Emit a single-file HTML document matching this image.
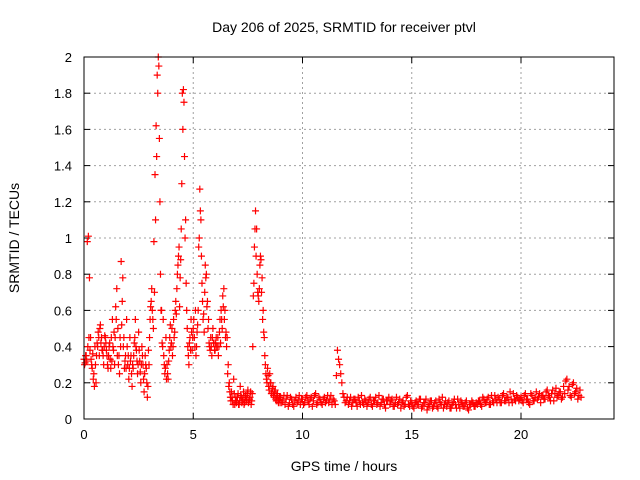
<!DOCTYPE html>
<html><head><meta charset="utf-8"><style>
html,body{margin:0;padding:0;background:#fff;}
svg{display:block;font-family:"Liberation Sans",sans-serif;}
</style></head><body>
<svg id="chart" width="640" height="480" viewBox="0 0 640 480" xmlns="http://www.w3.org/2000/svg">
<rect x="0" y="0" width="640" height="480" fill="#fff"/>
<text x="344" y="32" font-size="14" text-anchor="middle">Day 206 of 2025, SRMTID for receiver ptvl</text>
<text transform="translate(19,238) rotate(-90)" font-size="14" text-anchor="middle">SRMTID / TECUs</text>
<text x="344" y="471" font-size="14" text-anchor="middle">GPS time / hours</text>
<g id="grid"></g><g id="ticks"></g><g id="marks"></g>
<rect x="84" y="57" width="530" height="362" fill="none" stroke="#000" stroke-width="1"/>
</svg>
<script>
const xTicks=[0,5,10,15,20];
const yTicks=[0,0.2,0.4,0.6,0.8,1,1.2,1.4,1.6,1.8,2];
const yTickLabels=["0","0.2","0.4","0.6","0.8","1","1.2","1.4","1.6","1.8","2"];
const seg1Start=0, seg1Step=0.05;
const seg1Values=[
0.33,0.31,0.35,0.98,1.01,0.78,0.45,0.30,0.36,0.25,0.40,0.20,0.42,0.48,0.35,0.52,0.45,0.38,0.30,0.46,
0.42,0.35,0.28,0.40,0.33,0.45,0.55,0.38,0.30,0.62,0.72,0.50,0.35,0.45,0.87,0.65,0.40,0.28,0.35,0.55,
0.30,0.22,0.45,0.35,0.18,0.28,0.42,0.55,0.38,0.25,0.48,0.32,0.20,0.40,0.30,0.15,0.35,0.28,0.12,0.38,
0.45,0.62,0.72,0.55,0.98,1.35,1.62,1.90,2.00,1.55,0.80,0.60,0.40,0.35,0.25,0.45,0.30,0.22,0.38,0.52,
0.42,0.35,0.55,0.48,0.65,0.72,0.85,0.95,0.78,1.05,1.80,1.82,1.45,1.10,0.60,0.40,0.30,0.45,0.55,0.38,
0.50,0.45,0.60,0.40,0.52,0.95,1.27,1.10,0.75,0.55,0.48,0.85,0.80,0.65,0.55,0.40,0.45,0.35,0.50,0.42,
0.38,0.45,0.40,0.35,0.48,0.42,0.55,0.68,0.72,0.60,0.48,0.45,0.30,0.20,0.12,0.15,0.10,0.22,0.08,0.12,
0.10,0.14,0.08,0.18,0.12,0.10,0.15,0.09,0.13,0.11,0.16,0.10,0.12,0.08,0.14,0.68,0.95,1.15,1.05,0.70,
0.65,0.85,0.88,0.78,0.60,0.45,0.30,0.22,0.28,0.18,0.25,0.20,0.15,0.18,0.12,0.16,0.10,0.14,0.09,0.12];
const seg1bStart=0.025;
const seg1bValues=[
0.30,0.35,0.32,0.40,0.45,0.38,0.33,0.28,0.22,0.18,0.30,0.35,0.40,0.45,0.50,0.42,0.38,0.35,0.40,0.45,
0.38,0.30,0.35,0.42,0.28,0.32,0.40,0.48,0.45,0.55,0.35,0.30,0.25,0.40,0.52,0.78,0.45,0.32,0.28,0.40,
0.35,0.28,0.32,0.25,0.30,0.35,0.45,0.40,0.32,0.30,0.38,0.26,0.30,0.35,0.22,0.25,0.30,0.20,0.18,0.30,
0.55,0.65,0.60,0.50,0.70,1.10,1.45,1.80,1.95,1.20,0.60,0.42,0.55,0.30,0.28,0.22,0.25,0.32,0.45,0.40,
0.50,0.40,0.45,0.60,0.58,0.80,0.90,0.62,0.88,1.30,1.60,1.75,1.00,0.75,0.50,0.35,0.42,0.38,0.48,0.45,
0.55,0.40,0.35,0.48,0.60,1.00,1.15,0.90,0.65,0.58,0.70,0.78,0.62,0.50,0.42,0.38,0.40,0.45,0.42,0.38,
0.42,0.40,0.45,0.40,0.55,0.60,0.50,0.62,0.55,0.45,0.40,0.25,0.18,0.15,0.10,0.12,0.08,0.14,0.10,0.09,
0.12,0.08,0.10,0.13,0.09,0.11,0.08,0.12,0.10,0.14,0.09,0.11,0.15,0.10,0.40,0.75,1.05,0.90,0.80,0.68,
0.72,0.90,0.70,0.55,0.48,0.35,0.25,0.20,0.24,0.16,0.20,0.14,0.17,0.13,0.15,0.11,0.13,0.10,0.11,0.09];
const seg2Start=9, seg2Step=0.1;
const seg2Values=[
0.12,0.10,0.08,0.13,0.09,0.11,0.07,0.12,0.10,0.08,
0.11,0.09,0.13,0.08,0.12,0.10,0.14,0.09,0.11,0.08,
0.12,0.10,0.09,0.13,0.11,0.08,0.38,0.30,0.20,0.12,
0.10,0.08,0.12,0.09,0.11,0.07,0.10,0.13,0.08,0.10,
0.09,0.12,0.07,0.10,0.08,0.13,0.09,0.11,0.06,0.10,
0.08,0.11,0.07,0.12,0.09,0.06,0.10,0.08,0.13,0.07,
0.09,0.06,0.10,0.08,0.11,0.07,0.09,0.05,0.08,0.10,
0.07,0.10,0.06,0.09,0.12,0.08,0.07,0.10,0.06,0.09,
0.08,0.11,0.06,0.09,0.07,0.10,0.05,0.08,0.09,0.07,
0.08,0.10,0.07,0.11,0.09,0.12,0.08,0.10,0.13,0.09,
0.11,0.09,0.14,0.10,0.12,0.15,0.09,0.11,0.13,0.10,
0.12,0.09,0.14,0.11,0.08,0.13,0.10,0.15,0.12,0.09,
0.13,0.11,0.16,0.12,0.14,0.10,0.17,0.13,0.15,0.12,
0.14,0.22,0.18,0.12,0.20,0.15,0.11,0.16];
const seg2bStart=9.05;
const seg2bValues=[
0.09,0.13,0.11,0.07,0.12,0.08,0.10,0.09,0.13,0.11,
0.08,0.12,0.10,0.11,0.07,0.13,0.08,0.12,0.09,0.11,
0.09,0.13,0.11,0.08,0.10,0.24,0.33,0.25,0.14,0.09,
0.12,0.10,0.07,0.11,0.09,0.12,0.08,0.09,0.11,0.07,
0.11,0.08,0.10,0.12,0.09,0.07,0.11,0.08,0.10,0.12,
0.10,0.07,0.09,0.08,0.11,0.09,0.07,0.12,0.08,0.10,
0.07,0.09,0.08,0.11,0.06,0.09,0.11,0.07,0.10,0.06,
0.09,0.07,0.11,0.08,0.06,0.10,0.09,0.06,0.08,0.11,
0.06,0.08,0.10,0.07,0.09,0.06,0.08,0.10,0.07,0.09,
0.10,0.08,0.12,0.09,0.11,0.08,0.13,0.09,0.11,0.12,
0.09,0.13,0.10,0.12,0.09,0.11,0.14,0.10,0.12,0.11,
0.10,0.13,0.11,0.09,0.14,0.10,0.12,0.11,0.14,0.13,
0.11,0.15,0.13,0.10,0.16,0.14,0.12,0.15,0.11,0.18,
0.21,0.16,0.13,0.19,0.14,0.17,0.13,0.12];

const NS="http://www.w3.org/2000/svg";
const L=84,R=614,T=57,B=419,XMAX=(R-L)/21.85,YMAX=2;
function xs(v){return L+v/XMAX*(R-L);}
function ys(v){return B-v/YMAX*(B-T);}
function mk(tag,attrs,parent){const e=document.createElementNS(NS,tag);for(const k in attrs)e.setAttribute(k,attrs[k]);parent.appendChild(e);return e;}
const grid=document.getElementById('grid'),ticks=document.getElementById('ticks'),marks=document.getElementById('marks');
xTicks.forEach(t=>{const x=xs(t);
 if(t>0){const g=mk('line',{x1:x,x2:x,y1:T,y2:B,stroke:'#a0a0a0','stroke-dasharray':'2,3'},grid);
 
 }
 const tl=mk('text',{x:x,y:B+20,'font-size':13,'text-anchor':'middle'},ticks);tl.textContent=t;
 
 
 mk('line',{x1:x,x2:x,y1:B,y2:B-6,stroke:'#000'},ticks);mk('line',{x1:x,x2:x,y1:T,y2:T+6,stroke:'#000'},ticks);
});
yTicks.forEach((t,i)=>{const y=ys(t);
 if(t>0&&t<YMAX){const g=mk('line',{x1:L,x2:R,y1:y,y2:y,stroke:'#a0a0a0','stroke-dasharray':'2,3'},grid);
 
 }
 const tl=mk('text',{x:L-12,y:y+5,'font-size':13,'text-anchor':'end'},ticks);tl.textContent=yTickLabels[i];
 
 
 mk('line',{x1:L,x2:L+6,y1:y,y2:y,stroke:'#000'},ticks);mk('line',{x1:R,x2:R-6,y1:y,y2:y,stroke:'#000'},ticks);
});
function plus(t,v){const x=xs(t),y=ys(v);
 const p=mk('path',{d:`M${x-3.5},${y}H${x+3.5}M${x},${y-3.5}V${y+3.5}`,stroke:'#ff0000','stroke-width':1.2,fill:'none'},marks);
 
 }
seg1Values.forEach((v,i)=>plus(seg1Start+i*seg1Step,v));
seg1bValues.forEach((v,i)=>plus(seg1bStart+i*seg1Step,v));
seg2Values.forEach((v,i)=>plus(seg2Start+i*seg2Step,v));
seg2bValues.forEach((v,i)=>plus(seg2bStart+i*seg2Step,v));
</script>
</body></html>
